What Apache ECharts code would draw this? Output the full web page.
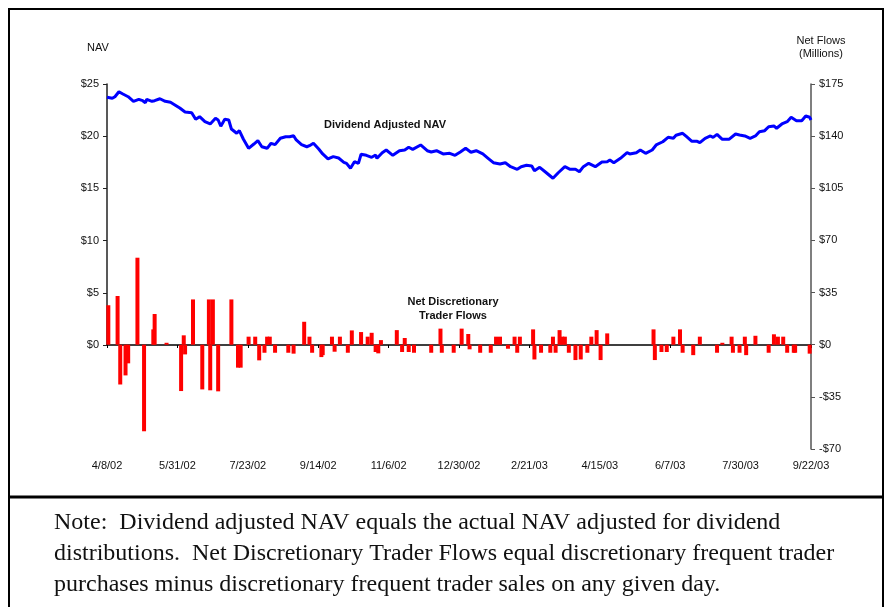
<!DOCTYPE html>
<html>
<head>
<meta charset="utf-8">
<title>Dividend Adjusted NAV and Net Discretionary Trader Flows</title>
<script src="https://cdn.jsdelivr.net/npm/echarts@6/dist/echarts.min.js"></script>
<style>
    html, body { margin: 0; padding: 0; background: #fff; }
    #chart { width: 884px; height: 607px; }
</style>
</head>
<body>
<div id="chart"></div>
<script>
// 4/8/02 is day 0, the axis ends on 9/22/03 (day 532)
const startDate = Date.UTC(2002, 3, 8);
const lastDay = 532;
const dateStep = 53.2;

// Dividend adjusted NAV
const navDays = [
    0, 4, 6, 9, 12, 16, 20, 24, 27, 29, 30, 34, 36, 40, 44, 48, 51, 55, 59, 64,
    67, 70, 74, 78, 82, 84, 86, 89, 92, 94, 98, 100, 103, 107, 111, 114, 117, 121, 124, 127,
    131, 135, 138, 141, 143, 147, 151, 153, 156, 160, 163, 167, 171, 175, 179, 181, 184, 187, 190, 192,
    196, 200, 203, 204, 208, 211, 216, 221, 225, 228, 231, 237, 242, 245, 249, 254, 259, 263, 267, 271,
    275, 279, 284, 288, 292, 297, 301, 305, 310, 313, 317, 321, 323, 327, 332, 337, 341, 346, 350, 354,
    357, 360, 364, 369, 374, 378, 380, 383, 388, 393, 395, 400, 403, 407, 412, 415, 420, 424, 428, 430,
    435, 438, 442, 446, 448, 452, 456, 458, 461, 465, 470, 475, 478, 482, 486, 490, 493, 497, 500, 504,
    506, 510, 514, 517, 521, 525, 528, 531, 532
];
const navValues = [
    23.73, 23.63, 23.78, 24.26, 24.04, 23.78, 23.34, 23.53, 23.40, 23.21, 23.53, 23.34, 23.40, 23.59, 23.34, 23.25, 23.02, 22.70, 22.32, 22.25,
    21.62, 21.87, 21.39, 21.17, 21.71, 21.55, 20.95, 21.62, 21.55, 20.69, 20.28, 20.53, 19.73, 18.84, 19.25, 19.57, 18.99, 18.84, 19.32, 19.19,
    19.80, 19.95, 19.95, 20.05, 19.64, 19.19, 18.99, 19.09, 19.32, 18.77, 18.30, 17.82, 18.04, 17.91, 17.50, 17.40, 16.93, 17.56, 17.40, 18.27,
    18.17, 17.98, 18.20, 17.88, 18.42, 18.68, 18.17, 18.61, 18.68, 18.94, 18.74, 19.16, 18.61, 18.49, 18.61, 18.30, 18.36, 18.17, 18.49, 18.84,
    18.46, 18.61, 18.30, 17.88, 17.46, 17.34, 17.46, 17.08, 16.83, 17.08, 17.21, 17.15, 16.70, 17.02, 16.50, 15.97, 16.50, 17.08, 16.83, 16.83,
    16.60, 17.08, 17.40, 17.08, 17.53, 17.56, 17.72, 17.46, 17.88, 18.42, 18.30, 18.42, 18.68, 18.36, 18.68, 19.16, 19.47, 19.89, 19.80, 20.09,
    20.28, 19.95, 19.51, 19.51, 19.38, 19.80, 20.02, 19.89, 20.18, 19.70, 19.70, 20.21, 20.11, 20.02, 19.80, 20.02, 20.43, 20.53, 20.91, 20.98,
    20.76, 21.17, 21.39, 21.81, 21.48, 21.48, 21.93, 21.81, 21.55
];

// Net discretionary trader flows ($ millions), one entry per red bar
const flowDays = [
    1, 8, 10, 14, 16, 23, 28, 35, 36, 45, 56, 58, 59, 65, 72, 77, 78, 80, 84, 94,
    99, 101, 107, 112, 115, 119, 121, 123, 127, 137, 141, 149, 153, 155, 162, 163, 170, 172, 176, 182,
    185, 192, 197, 200, 203, 205, 207, 219, 223, 225, 228, 232, 245, 252, 253, 262, 268, 273, 274, 282,
    290, 294, 297, 303, 308, 310, 312, 322, 323, 328, 335, 337, 339, 342, 344, 346, 349, 354, 358, 363,
    366, 370, 373, 378, 413, 414, 419, 423, 428, 433, 435, 443, 448, 461, 465, 472, 473, 478, 482, 483,
    490, 500, 504, 507, 511, 514, 519, 520, 531
];
const flowValues = [
    26.5, 32.7, -26.7, -20.6, -12.5, 58.4, -58.1, 10.3, 20.6, 1.3, -31.1, 6.3, -6.5, 30.4, -30.0, 30.4, -30.6, 30.4, -31.3, 30.4,
    -15.4, -15.4, 5.4, 5.4, -10.5, -5.4, 5.4, 5.4, -5.4, -5.4, -6.0, 15.4, 5.4, -5.4, -8.3, -7.0, 5.4, -4.7, 5.4, -5.4,
    9.6, 8.5, 5.4, 8.0, -4.9, -5.8, 3.1, 9.8, -4.9, 4.5, -4.9, -5.4, -5.4, 10.8, -5.4, -5.4, 10.8, 7.2, -3.1, -5.4,
    -5.4, 5.4, 5.4, -2.7, 5.4, -5.4, 5.4, 10.3, -9.9, -5.4, -5.4, 5.4, -5.4, 9.8, 5.4, 5.4, -5.4, -10.3, -9.9, -5.4,
    5.4, 9.8, -10.3, 7.6, 10.3, -10.3, -4.9, -4.9, 5.4, 10.3, -5.4, -7.0, 5.4, -5.4, 1.3, 5.4, -5.4, -5.4, 5.4, -7.0,
    6.0, -5.4, 7.0, 5.4, 5.4, -5.4, -5.4, -5.4, -6.0
];

// tick labels
const navTicks = { min: 0, max: 25, step: 5 };
const flowTicks = { min: -70, max: 175, step: 35 };

const noteText = [
    'Note:  Dividend adjusted NAV equals the actual NAV adjusted for dividend',
    'distributions.  Net Discretionary Trader Flows equal discretionary frequent trader',
    'purchases minus discretionary frequent trader sales on any given day.'
];

// 入口
window.onload = function () {
    drawChart();
};

// day number -> 4/8/02 style
function dayLabel(v) {
    let d = new Date(startDate + Math.floor(v + 1e-6) * 86400000);
    return (d.getUTCMonth() + 1) + '/' + d.getUTCDate() + '/' + String(d.getUTCFullYear()).slice(2);
}

function drawChart() {
    const font = '"Liberation Sans", Arial, sans-serif';
    const navData = navDays.map((d, i) => [d, navValues[i]]);
    const flowData = flowDays.map((d, i) => [d, flowValues[i]]);

    let option = {
        animation: false,
        backgroundColor: '#fff',
        textStyle: { fontFamily: font },
        grid: [
            // NAV part, its bottom edge is the $0 line
            { left: 107, right: 73, top: 84, height: 261 },
            // flows part, down to -$70
            { left: 107, right: 73, top: 84, height: 365 }
        ],
        xAxis: [
            {
                type: 'value',
                gridIndex: 0,
                min: 0,
                max: lastDay,
                interval: dateStep,
                axisLine: { show: true, lineStyle: { color: '#000', width: 1.5 } },
                axisTick: { show: true, length: 3, lineStyle: { color: '#000' } },
                axisLabel: { show: false },
                splitLine: { show: false }
            },
            {
                type: 'value',
                gridIndex: 1,
                min: 0,
                max: lastDay,
                interval: dateStep,
                axisLine: { show: false, onZero: false },
                axisTick: { show: false },
                axisLabel: {
                    color: '#111',
                    fontSize: 11,
                    margin: 11,
                    formatter: dayLabel
                },
                splitLine: { show: false }
            }
        ],
        yAxis: [
            {
                type: 'value',
                gridIndex: 0,
                position: 'left',
                min: navTicks.min,
                max: navTicks.max,
                interval: navTicks.step,
                axisLine: { show: true, onZero: false, lineStyle: { color: '#222', width: 1.5 } },
                axisTick: { show: true, length: 4, lineStyle: { color: '#222' } },
                axisLabel: { color: '#111', fontSize: 11, margin: 8, formatter: v => '$' + v },
                splitLine: { show: false }
            },
            {
                type: 'value',
                gridIndex: 1,
                position: 'right',
                min: flowTicks.min,
                max: flowTicks.max,
                interval: flowTicks.step,
                axisLine: { show: true, onZero: false, lineStyle: { color: '#555', width: 1.5 } },
                axisTick: { show: true, length: 4, lineStyle: { color: '#555' } },
                axisLabel: {
                    color: '#111',
                    fontSize: 11,
                    margin: 8,
                    formatter: v => (v < 0 ? '-$' + (-v) : '$' + v)
                },
                splitLine: { show: false }
            }
        ],
        series: [
            {
                name: 'Net Discretionary Trader Flows',
                type: 'bar',
                xAxisIndex: 1,
                yAxisIndex: 1,
                barWidth: 4,
                itemStyle: { color: '#ff0000' },
                data: flowData,
                z: 2
            },
            {
                name: 'Dividend Adjusted NAV',
                type: 'line',
                xAxisIndex: 0,
                yAxisIndex: 0,
                showSymbol: false,
                symbol: 'none',
                lineStyle: { color: '#0000ff', width: 3 },
                data: navData,
                z: 3
            }
        ],
        graphic: [
            // frame and the rule above the note
            {
                type: 'rect',
                shape: { x: 9, y: 9, width: 874, height: 620 },
                style: { fill: 'none', stroke: '#000', lineWidth: 2 },
                silent: true
            },
            {
                type: 'line',
                shape: { x1: 9, y1: 497, x2: 884, y2: 497 },
                style: { stroke: '#000', lineWidth: 3 },
                silent: true
            },
            // axis titles
            {
                type: 'text', left: 87, top: 42,
                style: { text: 'NAV', font: '11px ' + font, fill: '#111' }
            },
            {
                type: 'text', x: 821, y: 34,
                style: {
                    text: 'Net Flows\n(Millions)', font: '11px ' + font, fill: '#111',
                    align: 'center', lineHeight: 13
                }
            },
            // series labels
            {
                type: 'text', x: 385, y: 119,
                style: {
                    text: 'Dividend Adjusted NAV', font: 'bold 11px ' + font, fill: '#111',
                    align: 'center'
                }
            },
            {
                type: 'text', x: 453, y: 295,
                style: {
                    text: 'Net Discretionary\nTrader Flows', font: 'bold 11px ' + font, fill: '#111',
                    align: 'center', lineHeight: 14
                }
            },
            // note under the chart
            {
                type: 'text', x: 54, y: 507,
                style: {
                    text: noteText.join('\n'),
                    font: '24px "Liberation Serif", "Times New Roman", serif',
                    fill: '#111',
                    lineHeight: 31
                }
            }
        ]
    };

    let chart = echarts.init(document.getElementById('chart'));
    chart.setOption(option);

    window.onresize = function () {
        chart.resize();
    };
}
</script>
</body>
</html>
